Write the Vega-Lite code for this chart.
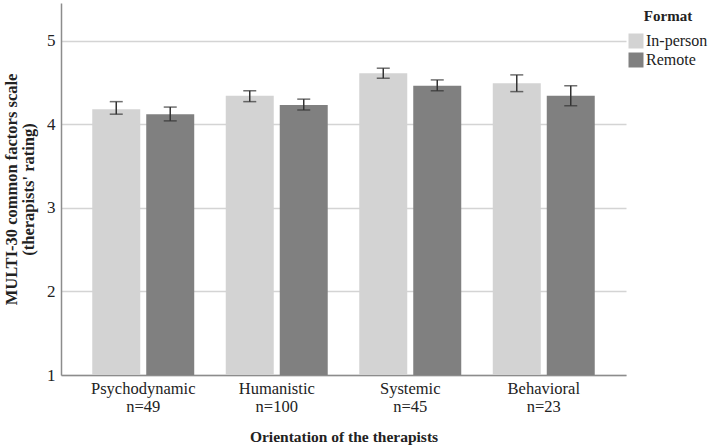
{
  "$schema": "https://vega.github.io/schema/vega-lite/v6.json",
  "width": 565,
  "height": 372,
  "autosize": {"type": "none"},
  "padding": {"left": 61, "top": 3, "right": 83, "bottom": 73},
  "background": "white",
  "config": {
    "font": "Liberation Serif",
    "view": {"stroke": null},
    "axis": {"labelFont": "Liberation Serif", "titleFont": "Liberation Serif", "labelColor": "#222", "titleColor": "#222", "domainColor": "#8c8c8c", "domainWidth": 1.5}
  },
  "data": {
    "values": [
      {"orientation": "Psychodynamic|n=49", "format": "In-person", "mean": 4.18, "lo": 4.12, "hi": 4.27},
      {"orientation": "Psychodynamic|n=49", "format": "Remote", "mean": 4.12, "lo": 4.04, "hi": 4.205},
      {"orientation": "Humanistic|n=100", "format": "In-person", "mean": 4.34, "lo": 4.27, "hi": 4.40},
      {"orientation": "Humanistic|n=100", "format": "Remote", "mean": 4.23, "lo": 4.17, "hi": 4.30},
      {"orientation": "Systemic|n=45", "format": "In-person", "mean": 4.61, "lo": 4.55, "hi": 4.67},
      {"orientation": "Systemic|n=45", "format": "Remote", "mean": 4.46, "lo": 4.40, "hi": 4.53},
      {"orientation": "Behavioral|n=23", "format": "In-person", "mean": 4.49, "lo": 4.39, "hi": 4.59},
      {"orientation": "Behavioral|n=23", "format": "Remote", "mean": 4.34, "lo": 4.22, "hi": 4.46}
    ]
  },
  "encoding": {
    "x": {
      "field": "orientation",
      "type": "nominal",
      "sort": ["Psychodynamic|n=49", "Humanistic|n=100", "Systemic|n=45", "Behavioral|n=23"],
      "scale": {"paddingInner": 0, "paddingOuter": 0.116},
      "axis": {
        "title": "Orientation of the therapists",
        "titleFontSize": 15.5,
        "titleFontWeight": "bold",
        "titlePadding": 15,
        "labelFontSize": 16.5,
        "labelAngle": 0,
        "labelExpr": "split(datum.value, '|')",
        "labelLineHeight": 18,
        "labelPadding": 5,
        "ticks": false
      }
    },
    "xOffset": {
      "field": "format",
      "type": "nominal",
      "sort": ["In-person", "Remote"],
      "scale": {"paddingInner": 0.111, "paddingOuter": 0.292}
    }
  },
  "layer": [
    {
      "mark": {"type": "bar"},
      "encoding": {
        "y": {
          "field": "mean",
          "type": "quantitative",
          "scale": {"domain": [1, 5.45], "nice": false, "zero": false},
          "axis": {
            "values": [1, 2, 3, 4, 5],
            "format": "d",
            "title": ["MULTI-30 common factors scale", "(therapists' rating)"],
            "titleFontSize": 16.5,
            "titleFontWeight": "bold",
            "titleLineHeight": 17.5,
            "titlePadding": 10,
            "labelFontSize": 17,
            "labelPadding": 6,
            "ticks": false,
            "grid": true,
            "gridColor": "#d4d4d4",
            "gridWidth": 1.5
          }
        },
        "y2": {"datum": 1},
        "color": {
          "field": "format",
          "type": "nominal",
          "sort": ["In-person", "Remote"],
          "scale": {"domain": ["In-person", "Remote"], "range": ["#d3d3d3", "#808080"]},
          "legend": {
            "title": "Format",
            "orient": "none",
            "legendX": 567,
            "legendY": 6,
            "titleFontSize": 15,
            "titleFontWeight": "bold",
            "titleAnchor": "middle",
            "titleColor": "#222",
            "labelFontSize": 16,
            "labelColor": "#222",
            "symbolType": "square",
            "symbolSize": 225,
            "symbolStrokeWidth": 0,
            "labelOffset": 2,
            "rowPadding": 3,
            "titlePadding": 9
          }
        }
      }
    },
    {
      "mark": {"type": "rule", "color": "#333333", "strokeWidth": 1.5},
      "encoding": {
        "x": {"field": "orientation", "type": "nominal", "bandPosition": 0.5, "sort": ["Psychodynamic|n=49", "Humanistic|n=100", "Systemic|n=45", "Behavioral|n=23"]},
        "y": {"field": "lo", "type": "quantitative"},
        "y2": {"field": "hi"}
      }
    },
    {
      "mark": {"type": "tick", "color": "#333333", "size": 13, "thickness": 1.5, "orient": "horizontal"},
      "encoding": {
        "y": {"field": "lo", "type": "quantitative"}
      }
    },
    {
      "mark": {"type": "tick", "color": "#333333", "size": 13, "thickness": 1.5, "orient": "horizontal"},
      "encoding": {
        "y": {"field": "hi", "type": "quantitative"}
      }
    }
  ]
}
